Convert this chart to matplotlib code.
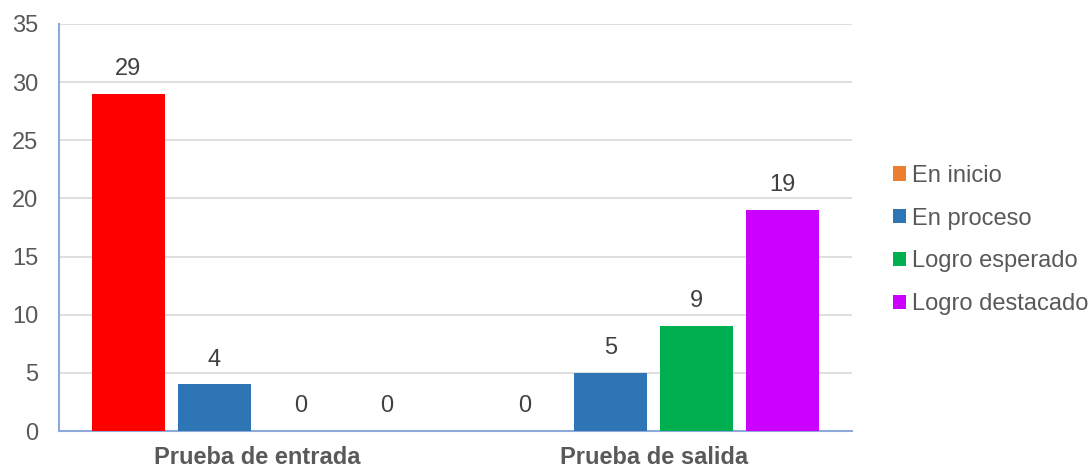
import matplotlib
matplotlib.use("Agg")
import matplotlib.pyplot as plt
import matplotlib.transforms as mtransforms
from matplotlib.patches import Patch
import numpy as np

plt.rcParams['font.family'] = ['Liberation Sans', 'DejaVu Sans']

categories = ["Prueba de entrada", "Prueba de salida"]
series_names = ["En inicio", "En proceso", "Logro esperado", "Logro destacado"]
en_inicio = [29, 0]
en_proceso = [4, 5]
logro_esperado = [0, 9]
logro_destacado = [0, 19]
values = [en_inicio, en_proceso, logro_esperado, logro_destacado]

legend_colors = ["#ED7D31", "#2E75B6", "#00B050", "#CC00FF"]
bar_colors = [["#FF0000", "#ED7D31"], ["#2E75B6"] * 2, ["#00B050"] * 2, ["#CC00FF"] * 2]

fig = plt.figure(figsize=(10.91, 4.68), dpi=100)
ax = fig.add_axes([59/1091, 1-431/468, (852-59)/1091, (431-24)/468])

x = np.arange(len(categories))
step = 0.217
width = 0.184
for i, (vals, cols) in enumerate(zip(values, bar_colors)):
    pos = x + (i - 1.5) * step
    ax.bar(pos, vals, width=width, color=cols, zorder=3)
    for p, v in zip(pos, vals):
        ax.annotate(str(v), (p, v), xytext=(0, 10), textcoords='offset points',
                    ha='center', va='bottom', fontsize=17, color='#404040', zorder=4)

ax.set_xlim(-0.5, 1.5)
ax.set_ylim(0, 35)
ax.set_yticks(range(0, 36, 5))
ax.yaxis.grid(True, color='#D9D9D9', linewidth=1.2, zorder=0)
ax.set_xticks(x)
ax.set_xticklabels([])
ax.tick_params(axis='x', length=0)
trans = mtransforms.blended_transform_factory(ax.transData, fig.transFigure)
for xi, cat in zip(x, categories):
    ax.text(xi, 1 - 464/468, cat, transform=trans, ha='center', va='baseline',
            fontsize=17, fontweight='bold', color='#595959')
ax.tick_params(axis='y', length=0, pad=15, labelsize=17, labelcolor='#595959')
for s in ['top', 'right']:
    ax.spines[s].set_visible(False)
for s in ['left', 'bottom']:
    ax.spines[s].set_color('#8EA9DB')
    ax.spines[s].set_linewidth(1.5)

handles = [Patch(facecolor=c, label=n) for c, n in zip(legend_colors, series_names)]
fig.legend(handles=handles, loc='center left', bbox_to_anchor=(872/1091, 1-240/468),
           frameon=False, fontsize=17, labelcolor='#595959',
           handlelength=0.55, handleheight=0.55, handletextpad=0.25, labelspacing=0.88)

fig.savefig("out.png", dpi=100)
